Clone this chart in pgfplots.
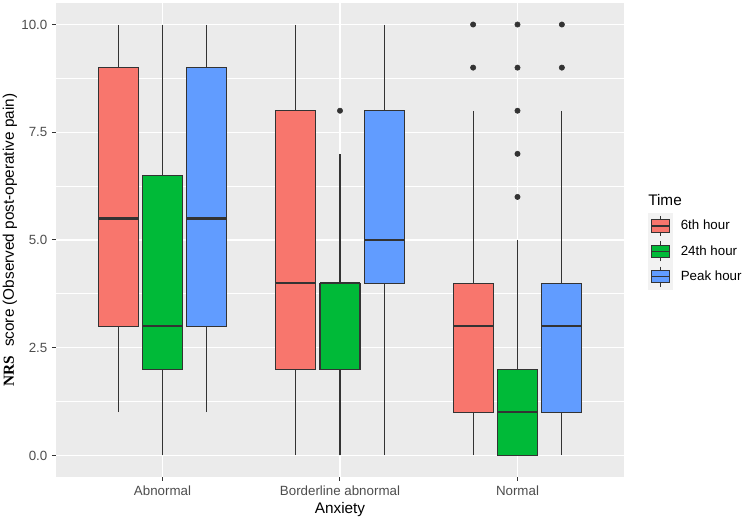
\documentclass[border=0pt]{standalone}
\usepackage{fontspec}
\setmainfont{Liberation Sans}
\newfontfamily\timesfont{Liberation Serif}
\usepackage{pgfplots}
\pgfplotsset{compat=1.18}
\usepgfplotslibrary{statistics}

\definecolor{c6}{HTML}{F8766D}
\definecolor{c24}{HTML}{00BA38}
\definecolor{cpk}{HTML}{619CFF}
\definecolor{panelbg}{HTML}{EBEBEB}
\definecolor{keybg}{HTML}{F2F2F2}
\definecolor{linec}{HTML}{333333}
\definecolor{tickc}{HTML}{4D4D4D}

\pgfplotsset{
  gbox/.style={forget plot, draw=linec, line width=0.8pt, solid, mark=none,
    boxplot/draw direction=y,
    boxplot/every median/.style={line width=1.7pt},
    boxplot/every whisker/.style={line width=0.8pt}},
  boxkey/.style={legend image code/.code={
    \fill[keybg] (0pt,-9.3pt) rectangle (18pt,9.3pt);
    \draw[linec, line width=0.75pt] (9pt,-7.5pt) -- (9pt,-4.65pt) (9pt,4.65pt) -- (9pt,7.5pt);
    \filldraw[draw=linec, line width=0.75pt] (2.25pt,-4.65pt) rectangle (15.75pt,4.65pt);
    \draw[linec, line width=0.9pt] (2.25pt,0pt) -- (15.75pt,0pt);
  }}
}

\begin{document}
\begin{tikzpicture}
\useasboundingbox (0,0) rectangle (558pt,390.75pt);
\begin{axis}[
  at={(42pt,33pt)}, anchor=south west,
  scale only axis, width=426pt, height=355.5pt,
  xmin=0.4, xmax=3.6, ymin=-0.5, ymax=10.5,
  clip mode=individual,
  axis background/.style={fill=panelbg},
  axis line style={draw=none},
  xtick={1,2,3},
  xticklabels={Abnormal, Borderline abnormal, Normal},
  ytick={0,2.5,5,7.5,10},
  minor ytick={1.25,3.75,6.25,8.75},
  xtick pos=bottom, ytick pos=left,
  tick align=outside,
  major tick length=3pt, minor tick length=0pt,
  tick style={linec, line width=0.75pt},
  xmajorgrids, ymajorgrids, yminorgrids,
  major grid style={white, line width=1.1pt},
  minor grid style={white, line width=0.55pt},
  /pgf/number format/assume math mode=true,
  yticklabel style={/pgf/number format/.cd, fixed, fixed zerofill, precision=1},
  ticklabel style={font=\fontsize{10}{12}\selectfont, text=tickc},
  every axis x label/.style={at={(axis description cs:0.5,-0.0696)}, anchor=center},
  every axis y label/.style={at={(axis description cs:-0.081,0.5)}, anchor=center, rotate=90},
  xlabel={Anxiety},
  ylabel={{\timesfont\bfseries NRS}\ \ score (Observed post-operative pain)},
  label style={font=\fontsize{11.5}{13}\selectfont},
  legend style={name=leg, at={(1.0423,0.557)}, anchor=north west, draw=none, fill=none,
    inner sep=0pt, row sep=0pt, column sep=6pt,
    nodes={inner sep=0pt, anchor=west}, font=\fontsize{10}{12}\selectfont},
  legend cell align=left,
]
% Abnormal
\addplot[gbox, fill=c6, boxplot prepared={lower whisker=1, lower quartile=3, median=5.5, upper quartile=9, upper whisker=10, draw position=0.75, box extend=0.225, whisker extend=0}] coordinates {};
\addplot[gbox, fill=c24, boxplot prepared={lower whisker=0, lower quartile=2, median=3, upper quartile=6.5, upper whisker=10, draw position=1, box extend=0.225, whisker extend=0}] coordinates {};
\addplot[gbox, fill=cpk, boxplot prepared={lower whisker=1, lower quartile=3, median=5.5, upper quartile=9, upper whisker=10, draw position=1.25, box extend=0.225, whisker extend=0}] coordinates {};
% Borderline abnormal
\addplot[gbox, fill=c6, boxplot prepared={lower whisker=0, lower quartile=2, median=4, upper quartile=8, upper whisker=10, draw position=1.75, box extend=0.225, whisker extend=0}] coordinates {};
\addplot[gbox, fill=c24, boxplot prepared={lower whisker=0, lower quartile=2, median=4, upper quartile=4, upper whisker=7, draw position=2, box extend=0.225, whisker extend=0}] coordinates {};
\addplot[gbox, fill=cpk, boxplot prepared={lower whisker=0, lower quartile=4, median=5, upper quartile=8, upper whisker=10, draw position=2.25, box extend=0.225, whisker extend=0}] coordinates {};
% Normal
\addplot[gbox, fill=c6, boxplot prepared={lower whisker=0, lower quartile=1, median=3, upper quartile=4, upper whisker=8, draw position=2.75, box extend=0.225, whisker extend=0}] coordinates {};
\addplot[gbox, fill=c24, boxplot prepared={lower whisker=0, lower quartile=0, median=1, upper quartile=2, upper whisker=5, draw position=3, box extend=0.225, whisker extend=0}] coordinates {};
\addplot[gbox, fill=cpk, boxplot prepared={lower whisker=0, lower quartile=1, median=3, upper quartile=4, upper whisker=8, draw position=3.25, box extend=0.225, whisker extend=0}] coordinates {};
% outliers
\addplot[forget plot, only marks, mark=*, mark size=2pt, color=linec] coordinates {
  (2,8)
  (2.75,9) (2.75,10)
  (3,6) (3,7) (3,8) (3,9) (3,10)
  (3.25,9) (3.25,10)
};
\addlegendimage{boxkey, fill=c6}
\addlegendentry{6th hour}
\addlegendimage{boxkey, fill=c24}
\addlegendentry{24th hour}
\addlegendimage{boxkey, fill=cpk}
\addlegendentry{Peak hour}
\node[anchor=west, inner sep=0pt, font=\fontsize{11.5}{13}\selectfont] at (axis description cs:1.0423,0.5844) {Time};
\end{axis}
\end{tikzpicture}
\end{document}
